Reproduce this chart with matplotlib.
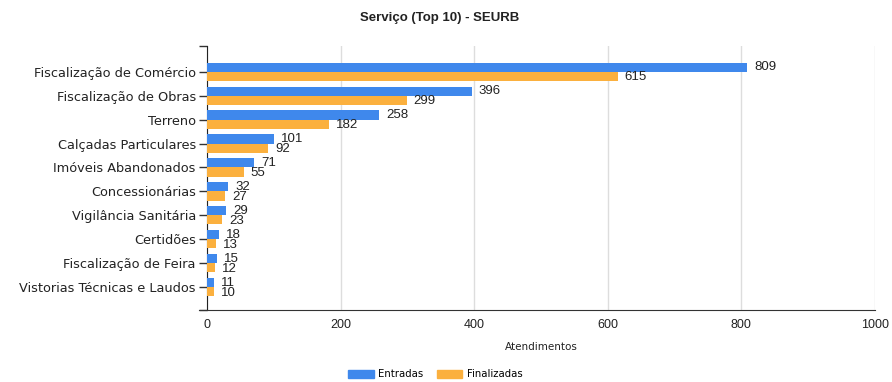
import numpy as np
import matplotlib.pyplot as plt
from matplotlib.patches import Patch

plt.rcParams["font.family"] = ["Liberation Sans", "DejaVu Sans"]

servicos = [
    "Fiscalização de Comércio",
    "Fiscalização de Obras",
    "Terreno",
    "Calçadas Particulares",
    "Imóveis Abandonados",
    "Concessionárias",
    "Vigilância Sanitária",
    "Certidões",
    "Fiscalização de Feira",
    "Vistorias Técnicas e Laudos",
]
entradas = [809, 396, 258, 101, 71, 32, 29, 18, 15, 11]
finalizadas = [615, 299, 182, 92, 55, 27, 23, 13, 12, 10]

cor_entradas = "#3f88ec"
cor_finalizadas = "#fbb03e"
wide = ["DejaVu Sans"]

fig = plt.figure(figsize=(8.92, 3.82), dpi=100)
ax = fig.add_axes([0.232, 0.188, 0.749, 0.692])

y = np.arange(len(servicos))
h = 0.38
ax.barh(y - h / 2, entradas, height=h, color=cor_entradas, zorder=3)
ax.barh(y + h / 2, finalizadas, height=h, color=cor_finalizadas, zorder=3)

# rótulos de valor ao lado de cada barra
for i, (e, f) in enumerate(zip(entradas, finalizadas)):
    ax.annotate(str(e), (e, i - h / 2), xytext=(5, 0), textcoords="offset points",
                va="center", ha="left", fontsize=9.5, color="#222222")
    ax.annotate(str(f), (f, i + h / 2 + 0.05), xytext=(5, 0), textcoords="offset points",
                va="center", ha="left", fontsize=9.5, color="#222222")

ax.set_xlim(0, 1000)
ax.set_ylim(9.96, -1.08)
ax.set_xticks(range(0, 1001, 200))
ax.set_yticks(y)
ax.set_yticklabels(servicos, fontsize=9.3, color="#222222", family=wide)
ax.set_yticks([9.96, -1.08], minor=True)
ax.tick_params(axis="y", which="both", length=6, width=1, color="#333333", pad=2)
ax.tick_params(axis="x", length=0, pad=6, labelsize=9, labelcolor="#222222")

ax.grid(axis="x", color="#dddddd", linewidth=1, zorder=0)
for s in ["top", "right"]:
    ax.spines[s].set_visible(False)
ax.spines["left"].set_color("#222222")
ax.spines["bottom"].set_color("#333333")
ax.spines["bottom"].set_bounds(-12, 1000)

ax.set_xlabel("Atendimentos", fontsize=7.5, labelpad=8, color="#222222", family=wide)

fig.text(0.493, 0.952, "Serviço (Top 10) - SEURB", ha="center", va="center",
         fontsize=9.5, fontweight="bold", color="#222222")

handles = [Patch(color=cor_entradas, label="Entradas"),
           Patch(color=cor_finalizadas, label="Finalizadas")]
fig.legend(handles=handles, loc="center", bbox_to_anchor=(0.488, 0.02), ncol=2,
           frameon=False, prop={"family": wide, "size": 7.3}, handlelength=2.5,
           handleheight=0.8, columnspacing=1.4, handletextpad=0.4)

fig.savefig("out.png", dpi=100, facecolor="white")
